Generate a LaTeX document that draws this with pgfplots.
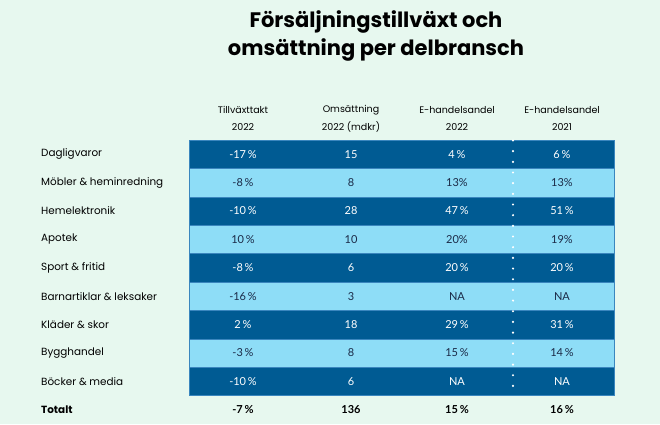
\documentclass[border=0pt]{standalone}
\usepackage{pgfplots}
\pgfplotsset{compat=1.18}
\usepackage{fontspec}
\setmainfont{Poppins}
\newfontfamily\numfont{Lato}
\definecolor{bg}{HTML}{E7F8EF}
\definecolor{dark}{HTML}{005B93}
\definecolor{light}{HTML}{8EDDF7}
\definecolor{sep}{HTML}{3A86BE}
\definecolor{ink}{HTML}{1B2A47}
\begin{document}
\begin{tikzpicture}
\begin{axis}[scale only axis, width=660pt, height=424pt,
  xmin=0, xmax=660, ymin=0, ymax=424, y dir=reverse, hide axis, clip=false]
% background
\addplot[fill=bg, draw=none] coordinates {(0,0) (660,0) (660,424) (0,424)} -- cycle;
% stripes
\addplot[fill=dark, draw=sep, line width=0.5pt] coordinates {(189,140.0) (614,140.0) (614,168.4) (189,168.4)} -- cycle;
\addplot[fill=light, draw=sep, line width=0.5pt] coordinates {(189,168.4) (614,168.4) (614,196.8) (189,196.8)} -- cycle;
\addplot[fill=dark, draw=sep, line width=0.5pt] coordinates {(189,196.8) (614,196.8) (614,225.2) (189,225.2)} -- cycle;
\addplot[fill=light, draw=sep, line width=0.5pt] coordinates {(189,225.2) (614,225.2) (614,253.6) (189,253.6)} -- cycle;
\addplot[fill=dark, draw=sep, line width=0.5pt] coordinates {(189,253.6) (614,253.6) (614,282.0) (189,282.0)} -- cycle;
\addplot[fill=light, draw=sep, line width=0.5pt] coordinates {(189,282.0) (614,282.0) (614,310.4) (189,310.4)} -- cycle;
\addplot[fill=dark, draw=sep, line width=0.5pt] coordinates {(189,310.4) (614,310.4) (614,338.8) (189,338.8)} -- cycle;
\addplot[fill=light, draw=sep, line width=0.5pt] coordinates {(189,338.8) (614,338.8) (614,367.2) (189,367.2)} -- cycle;
\addplot[fill=dark, draw=sep, line width=0.5pt] coordinates {(189,367.2) (614,367.2) (614,395.6) (189,395.6)} -- cycle;
% dotted separator
\addplot[white, line width=2.4pt, line cap=round, dash pattern=on 0pt off 10.67pt] coordinates {(513,140.5) (513,396)};
% title
\addplot[only marks, mark=none, point meta=explicit symbolic, nodes near coords,
  every node near coord/.append style={anchor=center, font=\fontsize{21}{25}\selectfont\bfseries, text=black}]
  table[meta=t, row sep=\\] {
x y t\\
376 22 {Försäljningstillväxt och}\\
376 50 {omsättning per delbransch}\\
};
% headers
\addplot[only marks, mark=none, point meta=explicit symbolic, nodes near coords,
  every node near coord/.append style={anchor=center, font=\fontsize{9.5}{11}\selectfont, text=black}]
  table[meta=t, row sep=\\] {
x y t\\
243 110 Tillväxttakt\\
243 127 2022\\
351 110 Omsättning\\
351 127 {2022 (mdkr)}\\
457 110 E-handelsandel\\
457 127 2022\\
562 110 E-handelsandel\\
562 127 2021\\
};
% row labels
\addplot[only marks, mark=none, point meta=explicit symbolic, nodes near coords,
  every node near coord/.append style={anchor=west, inner sep=0pt, font=\fontsize{10.4}{12}\selectfont, text=black}]
  table[meta=t, row sep=\\] {
x y t\\
41 154.2 Dagligvaror\\
41 182.6 {Möbler \& heminredning}\\
41 211.0 Hemelektronik\\
41 239.4 Apotek\\
41 267.8 {Sport \& fritid}\\
41 296.2 {Barnartiklar \& leksaker}\\
41 324.6 {Kläder \& skor}\\
41 353.0 Bygghandel\\
41 381.4 {Böcker \& media}\\
};
\addplot[only marks, mark=none, point meta=explicit symbolic, nodes near coords,
  every node near coord/.append style={anchor=west, inner sep=0pt, font=\fontsize{10.4}{12}\selectfont\bfseries, text=black}]
  table[meta=t, row sep=\\] {
x y t\\
41 410 Totalt\\
};
% values on dark rows
\addplot[only marks, mark=none, point meta=explicit symbolic, nodes near coords,
  every node near coord/.append style={anchor=center, font=\numfont\fontsize{11}{13}\selectfont, text=white}]
  table[meta=t, row sep=\\] {
x y t\\
243 154.2 {-17\,\%}\\
351 154.2 15\\
457 154.2 {4\,\%}\\
562 154.2 {6\,\%}\\
243 211.0 {-10\,\%}\\
351 211.0 28\\
457 211.0 {47\,\%}\\
562 211.0 {51\,\%}\\
243 267.8 {-8\,\%}\\
351 267.8 6\\
457 267.8 {20\,\%}\\
562 267.8 {20\,\%}\\
243 324.6 {2\,\%}\\
351 324.6 18\\
457 324.6 {29\,\%}\\
562 324.6 {31\,\%}\\
243 381.4 {-10\,\%}\\
351 381.4 6\\
457 381.4 NA\\
562 381.4 NA\\
};
% values on light rows
\addplot[only marks, mark=none, point meta=explicit symbolic, nodes near coords,
  every node near coord/.append style={anchor=center, font=\numfont\fontsize{11}{13}\selectfont, text=ink}]
  table[meta=t, row sep=\\] {
x y t\\
243 182.6 {-8\,\%}\\
351 182.6 8\\
457 182.6 {13\%}\\
562 182.6 {13\%}\\
243 239.4 {10\,\%}\\
351 239.4 10\\
457 239.4 {20\%}\\
562 239.4 {19\%}\\
243 296.2 {-16\,\%}\\
351 296.2 3\\
457 296.2 NA\\
562 296.2 NA\\
243 353.0 {-3\,\%}\\
351 353.0 8\\
457 353.0 {15\,\%}\\
562 353.0 {14\,\%}\\
};
% totals
\addplot[only marks, mark=none, point meta=explicit symbolic, nodes near coords,
  every node near coord/.append style={anchor=center, font=\numfont\fontsize{11}{13}\selectfont\bfseries, text=black}]
  table[meta=t, row sep=\\] {
x y t\\
243 410 {-7\,\%}\\
351 410 136\\
457 410 {15\,\%}\\
562 410 {16\,\%}\\
};
\end{axis}
\end{tikzpicture}
\end{document}
